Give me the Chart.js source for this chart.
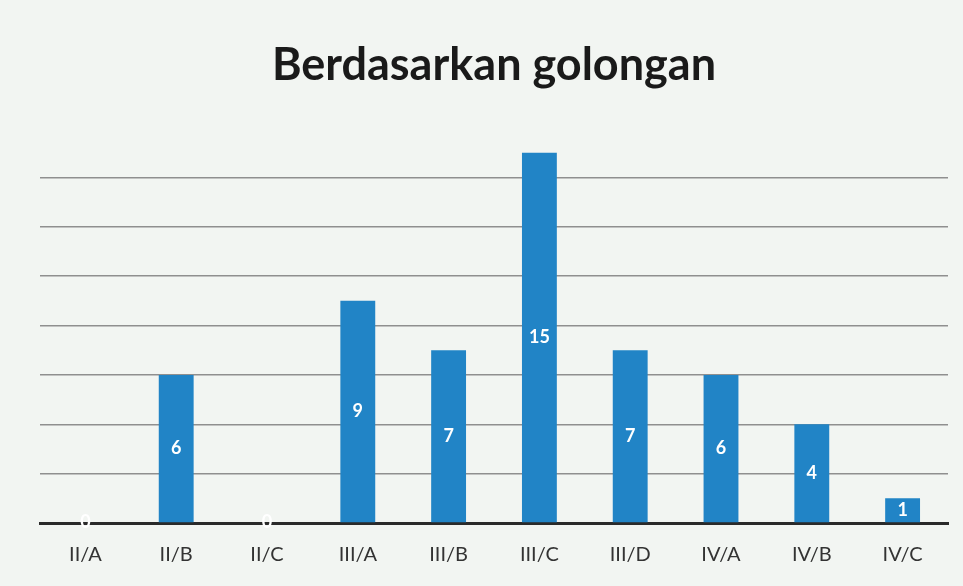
<!DOCTYPE html>
<html>
<head>
<meta charset="utf-8">
<script src="https://cdn.jsdelivr.net/npm/chart.js@4"></script>
<style>
    html, body { margin: 0; padding: 0; background: #f2f5f2; }
    .frame { width: 963px; height: 586px; position: relative; }
</style>
</head>
<body>
<div class="frame"><canvas id="golonganChart" width="963" height="586"></canvas></div>
<script>
const categories = ['II/A', 'II/B', 'II/C', 'III/A', 'III/B', 'III/C', 'III/D', 'IV/A', 'IV/B', 'IV/C'];
const counts = [0, 6, 0, 9, 7, 15, 7, 6, 4, 1];
const yMax = 16;
const yStep = 2;

// white value label in the middle of each bar
const barLabels = {
    id: 'barLabels',
    afterDatasetsDraw(chart) {
        const { ctx } = chart;
        const meta = chart.getDatasetMeta(0);
        ctx.save();
        ctx.fillStyle = '#ffffff';
        ctx.font = 'bold 18px Lato, "Open Sans", sans-serif';
        ctx.textAlign = 'center';
        ctx.textBaseline = 'middle';
        meta.data.forEach((bar, i) => {
            const y = counts[i] === 0 ? bar.base - 1 : (bar.y + bar.base) / 2;
            ctx.fillText(String(counts[i]), bar.x, y);
        });
        ctx.restore();
    }
};

new Chart(document.getElementById('golonganChart'), {
    type: 'bar',
    data: {
        labels: categories,
        datasets: [{
            data: counts,
            backgroundColor: '#2184c6',
            categoryPercentage: 0.8,
            barPercentage: 0.48
        }]
    },
    options: {
        responsive: false,
        animation: false,
        layout: { padding: { left: 40, right: 15, top: 0, bottom: 7 } },
        plugins: {
            legend: { display: false },
            tooltip: { enabled: false },
            title: {
                display: true,
                text: 'Berdasarkan golongan',
                color: '#1a1a1a',
                font: { family: 'Lato, "Open Sans", sans-serif', size: 45, weight: 'bold' },
                padding: { top: 38, bottom: 36 }
            }
        },
        scales: {
            x: {
                grid: { display: false },
                border: { display: true, color: '#2a2a2a', width: 3 },
                ticks: {
                    color: '#333333',
                    font: { family: 'Lato, "Open Sans", sans-serif', size: 20 },
                    padding: 12
                }
            },
            y: {
                min: 0,
                max: yMax,
                ticks: { display: false, stepSize: yStep },
                border: { display: false },
                grid: {
                    color: (c) => c.tick.value === yMax ? 'rgba(0,0,0,0)' : '#8f8f8f',
                    lineWidth: 1.5,
                    drawTicks: false
                }
            }
        }
    },
    plugins: [barLabels]
});
</script>
</body>
</html>
